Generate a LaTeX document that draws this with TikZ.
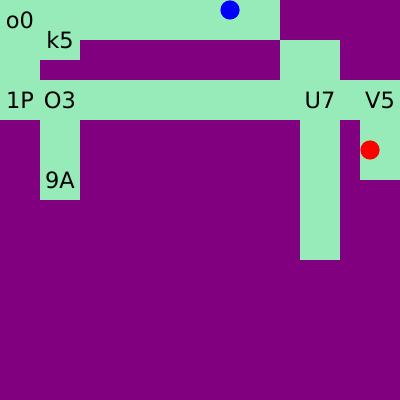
\documentclass[tikz,border=0pt]{standalone}
\usepackage{fontspec}
\setmainfont{DejaVu Sans}
\definecolor{wallpurple}{RGB}{128,0,128}
\definecolor{floorgreen}{RGB}{150,235,184}

\begin{document}
\begin{tikzpicture}[x=0.5cm, y=-0.5cm, every node/.style={font=\fontsize{16}{18}\selectfont, inner sep=0pt}]
	\useasboundingbox (0,0) rectangle (20,20);
	\fill[wallpurple] (0,0) rectangle (20,20);
	% open floor cells, in grid units of 20px
	\foreach \xa/\ya/\xb/\yb in {0/0/14/2, 0/2/4/3, 0/3/2/4, 14/2/17/4, 0/4/20/6, 2/6/4/10, 15/6/17/13, 18/6/20/9}
		\fill[floorgreen] (\xa,\ya) rectangle (\xb,\yb);
	\node (o0) at (1,1) {o0};
	\node (k5) at (3,2) {k5};
	\node (1P) at (1,5) {1P};
	\node (O3) at (3,5) {O3};
	\node (U7) at (16,5) {U7};
	\node (V5) at (19,5) {V5};
	\node (9A) at (3,9) {9A};
	\fill[blue] (11.5,0.5) circle (0.48);
	\fill[red] (18.5,7.5) circle (0.48);
\end{tikzpicture}
\end{document}
